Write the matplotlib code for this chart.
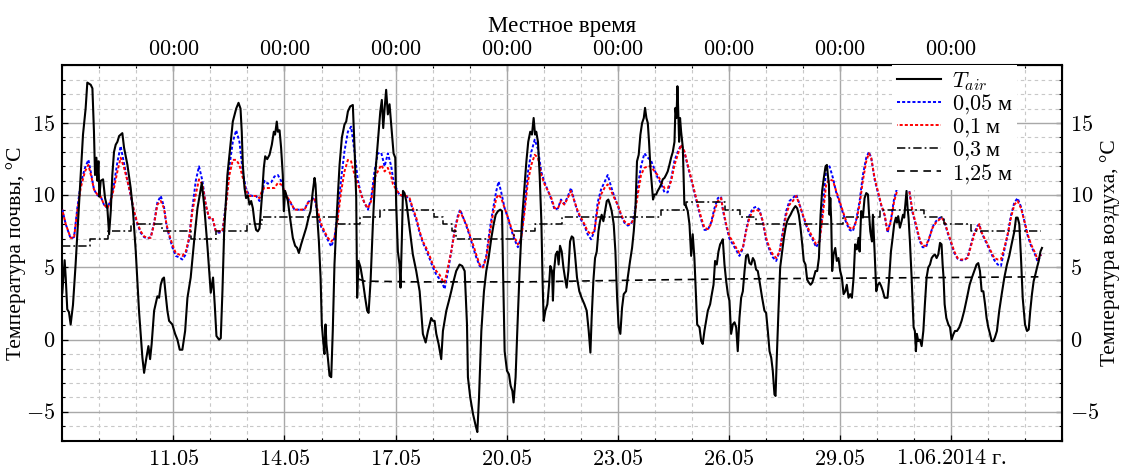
import matplotlib
matplotlib.use("Agg")
import matplotlib.pyplot as plt
from matplotlib.ticker import MultipleLocator
from datetime import date

# ---- observations (hours since 08.05.2014 00:00 local time) ----
air_obs = [
    (0.0, 3.25), (1.5, 5.5), (2.2, 4.3), (3.2, 2.1), (4.3, 1.9), (5.4, 1.05), (6.9, 2.4), (8.6, 5.2),
    (10.8, 9.35), (13.4, 14.2), (15.1, 16.0), (16.2, 17.8), (18.4, 17.65), (19.5, 17.4), (20.5, 14.4),
    (21.2, 11.4), (22.1, 12.6), (22.7, 11.0), (23.4, 12.35), (24.0, 9.9), (24.9, 11.0), (26.4, 11.1),
    (27.7, 9.8), (29.2, 9.1), (30.3, 7.3), (31.4, 8.9), (32.4, 11.4), (33.5, 13.0), (34.6, 13.5),
    (35.7, 13.7), (36.8, 14.1), (37.8, 14.2), (38.9, 14.3), (40.0, 13.3), (42.2, 12.1), (44.3, 10.5),
    (45.8, 8.9), (47.6, 6.1), (49.7, 2.0), (50.8, 0.4), (51.9, -1.25), (53.0, -2.3), (54.5, -1.25),
    (55.8, -0.45), (56.9, -1.35), (57.9, -0.3), (59.5, 2.0), (61.0, 2.7), (61.6, 3.0), (62.7, 2.9),
    (63.8, 3.8), (64.9, 4.2), (65.9, 4.3), (67.0, 3.1), (68.1, 2.0), (69.2, 1.3), (71.3, 1.05),
    (73.1, 0.4), (74.6, 0.0), (76.1, -0.7), (77.8, -0.7), (79.6, 0.6), (81.1, 2.9), (83.2, 4.3),
    (85.4, 6.8), (87.6, 9.1), (90.4, 10.85), (91.9, 9.35), (94.1, 6.4), (96.2, 3.25), (97.7, 4.3),
    (98.8, 2.4), (99.9, 0.25), (101.6, 0.0), (102.7, 0.1), (103.8, 3.4), (104.9, 7.5), (107.0, 11.4),
    (108.3, 12.8), (110.5, 15.1), (112.7, 16.0), (114.2, 16.4), (115.5, 16.0), (116.3, 14.4),
    (117.0, 12.1), (118.1, 10.5), (119.1, 9.8), (120.2, 10.0), (121.3, 9.35), (122.4, 9.6),
    (123.5, 9.1), (124.5, 8.2), (125.6, 7.6), (126.7, 7.5), (127.8, 7.7), (129.3, 9.8), (130.6, 11.9),
    (131.5, 12.7), (132.8, 12.5), (134.3, 12.8), (135.8, 13.5), (137.1, 14.4), (137.9, 14.2),
    (139.0, 15.1), (139.7, 14.4), (140.8, 14.5), (141.8, 13.3), (142.9, 11.4), (143.6, 8.9),
    (144.4, 10.3), (146.2, 9.6), (147.9, 8.2), (149.4, 7.05), (150.9, 6.5), (152.2, 6.35),
    (153.3, 6.0), (154.8, 6.6), (156.5, 7.2), (158.1, 7.75), (159.6, 8.45), (160.9, 8.9),
    (162.4, 10.3), (163.5, 11.2), (164.1, 10.75), (165.0, 8.9), (166.3, 6.8), (167.4, 4.3),
    (168.2, 1.05), (169.1, -0.1), (169.9, -1.0), (170.6, 1.05), (171.2, -0.3), (172.1, -1.25),
    (173.2, -2.5), (174.3, -2.6), (175.3, 0.6), (176.4, 5.2), (177.9, 8.65), (179.7, 12.1),
    (181.2, 14.0), (182.9, 14.9), (184.0, 15.1), (185.1, 15.8), (186.6, 16.15), (188.3, 16.25),
    (189.4, 13.3), (190.5, 9.8), (191.1, 2.9), (192.0, 5.45), (193.3, 5.0), (194.8, 4.05),
    (196.3, 2.9), (197.6, 2.0), (198.5, 1.85), (199.8, 4.05), (201.3, 8.0), (202.8, 11.4),
    (204.5, 13.7), (206.1, 15.8), (207.1, 16.6), (208.0, 14.65), (208.9, 16.0), (209.9, 17.3),
    (211.0, 15.6), (212.1, 16.3), (213.2, 14.9), (214.7, 12.9), (215.8, 12.6), (216.4, 9.35),
    (217.5, 6.1), (218.6, 5.2), (219.2, 3.6), (220.1, 7.05), (220.8, 10.3), (221.8, 10.15),
    (222.9, 9.6), (224.0, 8.65), (225.5, 7.3), (227.2, 5.9), (229.4, 4.75), (231.6, 3.35),
    (232.6, 2.0), (233.7, 0.4), (235.5, -0.2), (237.0, 0.6), (238.1, 1.05), (239.1, 1.5),
    (240.2, 1.3), (241.3, 1.3), (242.4, 0.4), (243.9, -0.3), (245.6, -1.35), (246.7, 0.6),
    (248.9, 2.0), (250.6, 2.7), (252.1, 3.35), (253.6, 4.05), (255.3, 4.75), (257.5, 5.2),
    (259.2, 5.1), (260.8, 4.75), (262.3, 1.05), (262.9, -2.6), (264.4, -4.0), (266.2, -5.15),
    (267.9, -5.95), (269.0, -6.4), (270.1, -4.0), (271.6, 0.6), (273.3, 3.35), (274.8, 4.75),
    (276.3, 5.65), (278.1, 7.05), (279.6, 8.0), (280.9, 8.65), (282.4, 8.9), (283.9, 9.0),
    (285.0, 8.9), (285.6, 5.2), (286.7, -0.8), (288.2, -2.15), (289.5, -2.4), (290.6, -3.2),
    (291.7, -3.55), (292.5, -4.35), (293.8, -2.6), (294.9, 0.6), (296.4, 4.75), (297.9, 8.2),
    (299.5, 10.5), (300.8, 12.35), (302.0, 13.7), (303.3, 14.4), (304.4, 14.2), (305.5, 15.35),
    (306.4, 14.2), (307.2, 14.4), (308.3, 13.7), (309.4, 11.4), (310.5, 8.2), (311.3, 4.05),
    (312.0, 1.3), (313.1, 2.0), (314.4, 2.45), (315.5, 3.8), (316.3, 5.1), (317.4, 4.75),
    (318.0, 2.7), (318.7, 4.75), (319.8, 5.9), (320.9, 6.1), (321.7, 5.2), (322.6, 6.5),
    (323.7, 6.1), (324.8, 5.0), (325.8, 4.3), (326.9, 3.6), (328.0, 4.75), (329.1, 6.8),
    (330.2, 7.15), (331.2, 7.05), (332.3, 5.9), (333.6, 4.3), (335.1, 3.35), (336.6, 2.9),
    (338.4, 2.45), (339.9, 2.0), (341.2, 0.6), (342.3, -0.9), (343.1, 1.5), (344.2, 4.05),
    (345.3, 5.65), (346.4, 6.1), (347.5, 7.5), (348.5, 8.2), (349.6, 8.65), (350.7, 8.2),
    (351.8, 8.9), (352.9, 9.6), (353.9, 9.7), (355.0, 9.35), (356.1, 8.9), (357.4, 8.0),
    (358.5, 6.1), (359.6, 2.9), (360.6, 0.85), (361.7, 0.4), (362.8, 2.2), (363.9, 3.15),
    (365.4, 3.35), (366.5, 4.3), (368.0, 5.45), (369.3, 6.35), (370.4, 7.5), (371.5, 9.1),
    (372.5, 12.35), (373.6, 12.8), (374.7, 14.2), (375.8, 15.0), (376.9, 15.35), (377.7, 16.05),
    (378.6, 15.35), (379.5, 15.0), (380.3, 13.7), (381.2, 11.9), (382.1, 10.75), (382.9, 9.7),
    (383.8, 10.05), (384.9, 10.05), (385.9, 10.3), (387.0, 10.5), (388.1, 10.75), (389.2, 11.1),
    (390.3, 11.2), (391.3, 11.4), (392.4, 11.65), (393.5, 12.1), (394.6, 12.6), (395.7, 13.0),
    (396.8, 13.7), (397.4, 16.05), (398.1, 15.35), (398.7, 17.55), (399.3, 15.6), (399.8, 13.7),
    (400.4, 15.35), (401.1, 14.4), (402.2, 13.3), (403.2, 9.35), (404.3, 9.25), (405.4, 8.9),
    (406.5, 8.0), (407.6, 5.8), (408.6, 7.3), (409.7, 5.65), (410.8, 2.9), (411.5, 1.05),
    (413.0, 0.85), (414.1, -0.1), (415.1, -0.3), (416.2, 0.6), (417.3, 1.3), (418.4, 2.0),
    (419.9, 2.45), (421.0, 3.15), (422.1, 3.8), (423.1, 5.45), (424.2, 5.2), (425.3, 6.1),
    (426.4, 6.6), (427.5, 6.8), (428.1, 6.95), (429.2, 5.2), (430.3, 4.05), (431.4, 3.15),
    (432.4, 2.7), (433.5, 0.4), (434.6, 1.05), (435.7, 1.2), (436.8, 0.85), (437.8, -0.8),
    (438.9, 1.5), (440.0, 2.9), (441.1, 3.35), (442.2, 4.75), (443.2, 5.8), (444.3, 5.9),
    (445.4, 5.3), (446.5, 5.2), (447.6, 5.65), (448.6, 5.45), (449.7, 4.85), (450.8, 4.75),
    (451.9, 4.05), (453.6, 2.9), (455.1, 2.0), (456.2, 1.85), (457.3, 0.6), (458.4, -0.8),
    (459.5, -1.25), (460.5, -2.15), (461.6, -3.8), (462.3, -3.9), (463.1, -1.25), (464.2, 2.0),
    (465.3, 5.0), (466.6, 6.1), (467.7, 7.05), (468.8, 7.75), (469.8, 8.2), (470.9, 8.45),
    (472.0, 8.65), (473.1, 8.9), (474.2, 9.1), (475.2, 9.25), (476.3, 9.1), (477.4, 8.65),
    (478.5, 7.75), (479.6, 6.6), (480.6, 5.45), (481.7, 5.2), (482.8, 4.15), (483.9, 3.95),
    (485.0, 3.8), (486.1, 3.95), (487.1, 4.3), (488.2, 4.75), (489.3, 4.75), (490.4, 5.65),
    (491.5, 8.65), (492.5, 10.3), (493.6, 11.2), (494.7, 12.0), (495.6, 12.1), (496.2, 11.4),
    (496.9, 10.75), (497.3, 8.65), (497.8, 9.8), (498.4, 8.2), (499.0, 4.75), (499.9, 5.9),
    (501.0, 6.35), (502.0, 5.45), (503.1, 5.65), (504.2, 4.75), (505.3, 4.3), (506.4, 3.15),
    (507.5, 3.35), (508.5, 3.8), (509.6, 2.9), (510.7, 3.15), (511.8, 2.9), (512.9, 4.3),
    (513.9, 6.6), (515.0, 6.25), (516.1, 7.05), (516.8, 6.1), (517.8, 8.9), (518.9, 8.45),
    (520.0, 9.8), (521.1, 10.15), (522.2, 10.05), (522.8, 8.9), (523.7, 7.5), (524.8, 6.8),
    (525.4, 8.65), (526.5, 6.1), (527.6, 3.35), (528.6, 3.8), (529.7, 3.95), (530.8, 3.7),
    (531.9, 3.35), (533.0, 2.9), (534.9, 2.9), (536.0, 4.3), (537.1, 6.1), (538.2, 7.05),
    (539.2, 8.0), (540.3, 8.45), (541.0, 8.1), (541.8, 8.55), (542.9, 7.75), (544.0, 8.2),
    (544.9, 8.65), (545.7, 8.45), (546.4, 9.35), (547.2, 10.3), (547.9, 9.1), (548.5, 8.45),
    (549.4, 6.8), (550.5, 4.3), (551.8, 0.85), (552.6, 0.6), (553.3, -0.8), (553.9, 0.4),
    (554.8, -0.1), (555.9, 0.0), (557.0, -0.45), (558.1, 0.6), (559.1, 2.45), (560.2, 4.3),
    (561.3, 5.0), (562.4, 5.2), (563.5, 5.65), (564.5, 5.8), (565.6, 5.9), (566.7, 5.65),
    (567.8, 5.9), (568.9, 6.7), (569.9, 6.6), (570.6, 5.2), (571.2, 4.3), (571.9, 2.45),
    (573.0, 1.5), (574.3, 1.05), (575.4, 0.85), (576.4, 0.0), (577.5, 0.35), (578.6, 0.6),
    (579.9, 0.6), (581.4, 0.85), (582.9, 1.3), (584.6, 2.0), (586.4, 2.9), (588.1, 3.8),
    (589.6, 4.3), (591.1, 4.75), (592.6, 5.2), (593.7, 5.3), (594.8, 4.75), (595.9, 3.35),
    (597.0, 3.35), (598.1, 2.45), (599.1, 1.5), (600.2, 0.85), (601.3, 0.4), (602.4, -0.1),
    (603.5, -0.1), (604.5, 0.15), (605.8, 0.6), (607.3, 2.0), (608.9, 3.15), (610.6, 4.3),
    (612.3, 5.2), (613.8, 5.8), (615.3, 6.6), (617.1, 7.5), (618.2, 8.45), (619.2, 8.45),
    (620.3, 8.0), (621.4, 5.65), (622.5, 2.9), (624.0, 1.05), (625.3, 0.6), (626.4, 0.7),
    (627.4, 2.0), (628.5, 3.15), (629.6, 4.05), (630.7, 4.5), (631.8, 5.0), (632.9, 5.45),
    (634.0, 6.1), (635.0, 6.35),
]

soil_hours = [
    0.0, 2.2, 5.4, 7.6, 9.7, 11.9, 14.7, 16.9, 19.0, 20.5,
    22.7, 24.9, 27.0, 29.2, 31.4, 33.5, 35.7, 37.8, 40.0, 42.2,
    44.3, 46.5, 48.6, 50.8, 53.0, 55.1, 57.3, 59.5, 61.6, 63.8,
    65.9, 67.5, 69.2, 71.3, 73.5, 75.7, 77.8, 80.0, 82.2, 84.3,
    86.5, 88.6, 90.8, 93.0, 95.1, 97.3, 99.5, 101.6, 103.8, 105.9,
    108.3, 110.5, 112.7, 114.8, 117.0, 119.1, 121.3, 123.5, 125.6, 127.8,
    129.3, 131.0, 133.2, 135.4, 137.5, 139.7, 141.8, 144.0, 146.2, 148.3,
    150.5, 152.6, 154.8, 157.0, 159.1, 161.3, 163.5, 165.6, 167.8, 169.9,
    172.1, 174.3, 176.4, 178.6, 180.8, 182.9, 185.1, 187.2, 189.4, 191.6,
    193.7, 195.9, 198.1, 200.2, 202.4, 204.5, 206.7, 208.9, 211.0, 213.2,
    214.3, 216.4, 218.6, 220.8, 222.9, 225.1, 227.2, 229.4, 231.6, 233.7,
    235.9, 238.1, 240.2, 242.4, 244.5, 246.7, 247.8, 249.9, 252.1, 254.3,
    256.4, 257.9, 259.7, 261.8, 264.0, 266.2, 268.3, 270.5, 272.6, 274.8,
    277.0, 279.1, 281.3, 282.8, 284.5, 286.7, 288.9, 291.0, 293.2, 295.3,
    297.5, 299.7, 301.8, 304.0, 306.2, 308.3, 310.5, 312.6, 314.8, 317.0,
    319.1, 321.3,
    323.2, 325.4, 327.6, 329.7, 331.9, 334.1, 336.2, 338.4, 340.5, 342.7,
    344.9, 347.0, 349.2, 351.4, 353.5, 355.7, 357.8, 360.0, 362.2, 364.3,
    366.5, 368.6, 370.8, 373.0, 375.1, 377.3, 379.5, 381.6, 383.8, 385.9,
    388.1, 390.3, 392.4, 394.6, 396.8, 398.9, 401.1, 403.2, 405.4, 407.6,
    409.7, 411.9, 414.1, 416.2, 418.4, 420.5, 422.7, 424.9, 427.0,
    428.1, 430.3, 432.4, 434.6, 436.8, 438.9, 441.1, 443.2, 445.4, 447.6,
    449.7, 451.9, 454.1, 456.2, 458.4, 460.5, 462.7, 464.9, 467.0, 469.2,
    471.3, 473.5, 475.7, 477.8, 480.0, 482.2, 484.3, 486.5, 488.6, 490.8,
    493.0, 495.1, 497.3, 499.5, 501.6, 503.8, 505.9, 508.1, 510.3, 512.4,
    514.6, 516.8, 518.9, 521.1, 522.8, 524.3, 526.5, 528.6, 530.8, 533.0,
    534.9, 537.1, 539.2, 541.4, 543.6, 545.7, 546.8, 549.0, 551.1, 553.3,
    555.5, 557.6, 559.8, 561.9, 564.1, 566.3, 568.4, 569.9, 571.7, 573.8,
    576.0, 578.2, 580.3, 582.5, 584.6, 586.8, 589.0, 591.1, 593.3, 594.4,
    595.5, 597.6, 599.8, 602.0, 604.1, 606.3, 608.4, 610.6, 612.8, 614.9,
    617.1, 619.2, 621.4, 623.6, 625.7, 627.9, 630.1, 632.2, 634.4,
]

soil_005 = [
    9.0, 8.0, 7.0, 7.1, 9.1, 10.8, 11.9, 12.45, 11.3, 10.4,
    10.0, 9.9, 9.35, 9.1, 9.7, 10.8, 12.3, 13.4, 12.2, 11.0,
    10.0, 8.8, 8.0, 7.4, 7.1, 7.0, 7.1, 8.1, 9.5, 9.95,
    9.2, 7.9, 7.2, 6.4, 5.8, 5.7, 5.55, 5.9, 7.0, 9.1,
    11.0, 12.0, 11.0, 9.3, 8.4, 8.4, 7.5, 7.4, 7.5, 9.3,
    12.0, 13.7, 14.5, 13.7, 11.6, 10.4, 10.0, 9.95, 9.95, 9.6,
    9.9, 11.0, 10.8, 10.9, 11.3, 11.4, 11.0, 10.2, 9.8, 9.4,
    9.0, 9.0, 9.0, 9.0, 9.5, 9.7, 9.8, 8.6, 7.8, 7.4,
    6.9, 6.45, 7.05, 8.9, 11.2, 13.05, 14.4, 14.75, 13.0, 11.0,
    10.05, 9.45, 9.0, 9.8, 11.7, 12.9, 12.95, 12.0, 12.9, 12.0,
    11.2, 10.5, 10.0, 9.95, 9.95, 9.7, 9.0, 8.3, 7.4, 6.7,
    6.2, 5.6, 5.0, 4.5, 4.2, 3.8, 3.5, 4.7, 6.1, 7.6,
    8.6, 9.0, 8.5, 7.9, 7.2, 6.4, 5.7, 5.1, 5.0, 5.8,
    7.6, 9.0, 10.3, 10.95, 10.2, 9.1, 8.4, 7.6, 6.9, 6.4,
    7.1, 9.3, 11.6, 13.0, 13.85, 13.2, 11.6, 10.9, 10.3, 9.7,
    9.0, 9.1,
    9.7, 9.4, 9.9, 10.5, 9.6, 8.8, 8.3, 7.9, 7.3, 6.95,
    7.5, 9.5, 10.4, 10.9, 11.4, 10.6, 9.9, 9.3, 8.6, 8.1,
    7.9, 8.0, 8.6, 10.6, 12.0, 12.9, 12.6, 12.4, 11.8, 11.2,
    10.8, 10.2, 10.2, 11.1, 12.4, 13.0, 13.5, 13.0, 12.0, 11.1,
    10.2, 9.2, 8.3, 7.6, 7.6, 8.1, 9.1, 9.8, 9.9,
    9.0, 7.9, 7.0, 6.6, 6.2, 5.8, 6.3, 7.6, 8.6, 9.1,
    9.2, 9.0, 8.1, 6.9, 6.2, 5.7, 5.45, 6.1, 7.5, 8.9,
    9.6, 9.8, 10.05, 9.4, 8.6, 7.9, 7.3, 6.9, 6.4, 6.8,
    9.2, 11.8, 12.0, 11.2, 10.2, 9.5, 8.8, 8.1, 7.6, 7.5,
    8.3, 9.6, 11.4, 12.6, 13.0, 12.6, 11.1, 10.2, 9.3, 8.6,
    7.4, 8.3, 9.8, 10.6, 10.8, 10.9, 10.95, 10.3, 8.8, 7.9,
    6.9, 6.4, 6.4, 7.0, 7.8, 8.2, 8.4, 8.5, 8.2, 7.4,
    6.7, 6.0, 5.6, 5.5, 5.5, 5.7, 6.6, 7.4, 7.9, 8.0,
    7.5, 7.0, 6.5, 6.0, 5.5, 5.2, 5.1, 6.2, 7.3, 8.6,
    9.5, 9.8, 9.2, 8.2, 7.2, 6.5, 6.0, 5.4, 5.9,
]

soil_010 = [
    9.0, 8.0, 7.05, 7.05, 8.9, 10.5, 11.65, 12.1, 11.2, 10.4,
    10.05, 9.9, 9.35, 9.1, 9.6, 10.5, 11.65, 12.6, 11.9, 11.0,
    10.05, 8.9, 8.1, 7.5, 7.15, 7.05, 7.05, 8.0, 9.35, 9.6,
    9.1, 8.0, 7.3, 6.6, 6.0, 5.9, 5.8, 6.1, 7.05, 8.9,
    10.05, 11.1, 10.75, 9.35, 8.45, 8.45, 7.5, 7.5, 7.5, 9.1,
    11.4, 12.45, 12.45, 12.1, 11.2, 10.3, 9.95, 9.95, 9.95, 9.8,
    10.3, 10.5, 10.5, 10.5, 10.5, 10.85, 10.75, 10.3, 9.8, 9.45,
    9.0, 9.0, 9.0, 9.0, 9.45, 9.6, 9.8, 8.9, 8.0, 7.5,
    7.05, 6.8, 7.05, 8.45, 10.3, 11.65, 12.45, 12.35, 11.4, 10.75,
    10.05, 9.45, 9.1, 9.6, 11.2, 11.65, 12.1, 11.65, 11.9, 11.3,
    10.75, 10.4, 10.05, 9.95, 9.95, 9.8, 9.1, 8.45, 7.5, 6.8,
    6.35, 5.8, 5.2, 4.75, 4.5, 4.05, 3.95, 5.0, 6.1, 7.5,
    8.45, 8.9, 8.45, 8.0, 7.3, 6.6, 5.9, 5.2, 5.0, 5.65,
    7.3, 8.65, 9.8, 10.05, 9.8, 9.1, 8.45, 7.75, 7.05, 6.6,
    7.05, 8.9, 10.95, 12.1, 12.8, 12.6, 11.4, 10.75, 10.3, 9.8,
    9.1, 9.1,
    9.6, 9.35, 9.8, 10.3, 9.6, 8.9, 8.45, 8.0, 7.5, 7.3,
    7.5, 9.1, 10.05, 10.5, 10.75, 10.3, 9.8, 9.35, 8.65, 8.2,
    8.0, 8.0, 8.45, 10.05, 11.4, 11.9, 12.0, 12.0, 11.65, 11.4,
    10.95, 10.5, 10.5, 10.95, 12.1, 12.8, 13.5, 13.05, 12.1, 11.2,
    10.3, 9.35, 8.45, 7.75, 7.65, 8.0, 8.9, 9.6, 9.8,
    9.1, 8.0, 7.15, 6.8, 6.35, 6.0, 6.35, 7.5, 8.45, 8.9,
    9.0, 8.9, 8.2, 7.05, 6.35, 5.9, 5.65, 6.1, 7.3, 8.65,
    9.35, 9.6, 9.95, 9.35, 8.65, 8.0, 7.5, 7.05, 6.6, 6.8,
    8.65, 10.75, 11.1, 11.0, 10.3, 9.6, 8.9, 8.2, 7.75, 7.65,
    8.2, 9.35, 11.0, 12.35, 12.9, 12.6, 11.2, 10.3, 9.35, 8.65,
    7.5, 8.2, 9.6, 10.4, 10.6, 10.75, 10.85, 10.3, 8.9, 8.0,
    7.05, 6.5, 6.5, 7.05, 7.75, 8.1, 8.3, 8.45, 8.2, 7.5,
    6.8, 6.1, 5.65, 5.55, 5.55, 5.65, 6.5, 7.3, 7.75, 8.0,
    7.5, 7.05, 6.6, 6.1, 5.65, 5.55, 5.55, 6.35, 7.3, 8.45,
    9.35, 9.6, 9.1, 8.2, 7.3, 6.6, 6.1, 5.55, 5.9,
]

# 0.3 m readings change in 0.5 degree steps
depth30_hours = [0.0, 17.8, 29.3, 44.4, 64.8, 83.3, 99.4, 119.8, 129.4, 178.6,
                 193.2, 205.7, 241.2, 246.7, 252.7, 255.4, 292.8, 306.2, 324.2, 388.1,
                 404.4, 429.6, 439.0, 449.8, 505.9, 529.7, 558.7, 571.7, 589.0, 634.3]
depth30 = [6.5, 7.0, 7.5, 8.0, 7.5, 7.0, 7.5, 8.0, 8.5, 8.0,
           8.5, 9.0, 8.5, 8.0, 7.5, 7.0, 7.5, 8.0, 8.5, 9.0,
           9.5, 9.0, 8.5, 8.0, 8.5, 9.0, 8.5, 8.0, 7.5, 7.5]

depth125_hours = [191.8, 196.0, 230.0, 300.0, 360.0, 430.0, 500.0, 570.0, 634.3]
depth125 = [4.2, 4.05, 4.0, 4.0, 4.1, 4.2, 4.25, 4.3, 4.35]

series_labels = [r"$T_{air}$", r"$0{,}05$ м", r"$0{,}1$ м", r"$0{,}3$ м", r"$1{,}25$ м"]

start_date = date(2014, 5, 8)
end_date = date(2014, 6, 4)
tick_dates = [date(2014, 5, 11), date(2014, 5, 14), date(2014, 5, 17), date(2014, 5, 20),
              date(2014, 5, 23), date(2014, 5, 26), date(2014, 5, 29), date(2014, 6, 1)]
tick_labels = [r"$11.05$", r"$14.05$", r"$17.05$", r"$20.05$",
               r"$23.05$", r"$26.05$", r"$29.05$", r"$1.06.2014$ г."]
top_label = r"$00$:$00$"
temp_ticks = [-5, 0, 5, 10, 15]

# ---- figure ----
plt.rcParams.update({
    "font.family": "serif",
    "font.serif": ["Liberation Serif", "DejaVu Serif"],
    "mathtext.fontset": "cm",
    "font.size": 16,
    "lines.scale_dashes": False,
    "axes.unicode_minus": True,
})

TICK_FS = 16
LABEL_FS = 16.5
YLABEL_FS = 15.5


def hours_since_start(d):
    return (d - start_date).days * 24.0


def temp_label(v):
    return f"${v}$" if v >= 0 else f"$-{abs(v)}$"


fig = plt.figure(figsize=(11.21, 4.72), dpi=100)
ax = fig.add_axes([0.0556, 0.0663, 0.8918, 0.7954])

air_hours = [p[0] for p in air_obs]
air_temp = [p[1] for p in air_obs]

l_air, = ax.plot(air_hours, air_temp, color="black", lw=1.5, zorder=6)
l05, = ax.plot(soil_hours, soil_005, color="#0000ff", lw=1.4, ls=(0, (2.2, 1.5)), zorder=4)
l10, = ax.plot(soil_hours, soil_010, color="#ff0000", lw=1.4, ls=(1.8, (2.2, 1.5)), zorder=4.5)
l30, = ax.plot(depth30_hours, depth30, color="black", lw=1.1, ls=(0, (6, 2.2, 1.3, 2.2)),
               drawstyle="steps-post", zorder=5)
l125, = ax.plot(depth125_hours, depth125, color="black", lw=1.2, ls=(0, (5.5, 4)), zorder=5)

ax.set_xlim(0, hours_since_start(end_date))
ax.set_ylim(-7, 19)

tick_hours = [hours_since_start(d) for d in tick_dates]
ax.set_xticks(tick_hours, labels=tick_labels)
ax.xaxis.set_minor_locator(MultipleLocator(24))
ax.set_yticks(temp_ticks, labels=[temp_label(v) for v in temp_ticks])
ax.yaxis.set_minor_locator(MultipleLocator(1))

ax.set_axisbelow(True)
ax.grid(which="major", color="#a8a8a8", lw=1.0, ls="-")
ax.grid(which="minor", color="#c8c8c8", lw=0.8, ls=(0, (2.5, 2.5)))

ax.tick_params(which="both", direction="in", top=False, right=False, labelsize=TICK_FS)
ax.tick_params(which="major", length=4, width=0.9)
ax.tick_params(which="minor", length=2.5, width=0.8)
ax.tick_params(axis="x", which="major", pad=7)
ax.tick_params(axis="y", which="major", pad=5)

for sp in ax.spines.values():
    sp.set_linewidth(1.5)

ax.set_ylabel("Температура почвы, °C", fontsize=YLABEL_FS, labelpad=0)

top = ax.secondary_xaxis("top")
top.set_xticks(tick_hours, labels=[top_label] * len(tick_hours))
top.xaxis.set_minor_locator(MultipleLocator(24))
top.tick_params(which="both", direction="in", labelsize=TICK_FS)
top.tick_params(which="major", length=4, width=0.9, pad=4)
top.tick_params(which="minor", length=2.5, width=0.8)
top.set_xlabel("Местное время", fontsize=LABEL_FS, labelpad=6)

right = ax.secondary_yaxis("right")
right.set_yticks(temp_ticks, labels=[temp_label(v) for v in temp_ticks])
right.yaxis.set_minor_locator(MultipleLocator(1))
right.tick_params(which="both", direction="in", labelsize=TICK_FS)
right.tick_params(which="major", length=4, width=0.9, pad=6)
right.tick_params(which="minor", length=2.5, width=0.8)
right.set_ylabel("Температура воздуха, °C", fontsize=YLABEL_FS, labelpad=0)

leg = ax.legend([l_air, l05, l10, l30, l125], series_labels, loc="upper right",
                bbox_to_anchor=(0.955, 1.0), borderaxespad=0.0, fontsize=16,
                frameon=True, fancybox=False, framealpha=1.0, edgecolor="none",
                facecolor="white", handlelength=2.0, handletextpad=0.5,
                labelspacing=0.0, borderpad=0.2)
leg.set_zorder(10)

fig.savefig("out.png", dpi=100)
